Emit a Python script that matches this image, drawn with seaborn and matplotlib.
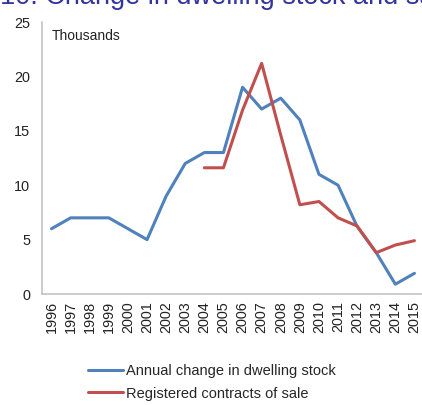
import pandas as pd
import matplotlib.pyplot as plt
import seaborn as sns

years = [str(y) for y in range(1996, 2016)]
dwelling_change = [6, 7, 7, 7, 6, 5, 9, 12, 13, 13, 19, 17, 18, 16, 11, 10, 6.2, 3.8, 0.9, 1.9]
sales_years = [str(y) for y in range(2004, 2016)]
sales_contracts = [11.6, 11.6, 16.9, 21.2, 14.6, 8.2, 8.5, 7.0, 6.25, 3.8, 4.5, 4.9]

labels = ["Annual change in dwelling stock", "Registered contracts of sale"]
colors = ["#4F81BD", "#C0504D"]

df = pd.concat([
    pd.DataFrame({"year": years, "value": dwelling_change, "series": labels[0]}),
    pd.DataFrame({"year": sales_years, "value": sales_contracts, "series": labels[1]}),
])

sns.set_style("white")
plt.rcParams["font.family"] = ["Liberation Sans", "DejaVu Sans"]

fig = plt.figure(figsize=(4.22, 4.05), dpi=100)
ax = fig.add_axes([42 / 422, 111 / 405, 382 / 422, 272 / 405])

sns.lineplot(data=df, x="year", y="value", hue="series", palette=colors,
             linewidth=2.2, legend=False, ax=ax)

ax.set_xlim(-0.5, 19.5)
ax.set_ylim(0, 25)
ax.set_yticks([0, 5, 10, 15, 20, 25])
ax.set_xlabel("")
ax.set_ylabel("")
ax.tick_params(axis="x", rotation=90, length=0, pad=5, labelsize=10.4, colors="#222222")
ax.tick_params(axis="y", length=0, pad=8.5, labelsize=10.4, colors="#222222")
for s in ["top", "right"]:
    ax.spines[s].set_visible(False)
for s in ["left", "bottom"]:
    ax.spines[s].set_color("#BFBFBF")
    ax.spines[s].set_linewidth(1.1)

ax.text(10 / 382, 0.95, "Thousands", transform=ax.transAxes, fontsize=10,
        color="#222222", va="center", ha="left")

ax.legend(ax.lines, labels, loc="upper left", bbox_to_anchor=(82 / 422, 1 - 358 / 405),
          bbox_transform=fig.transFigure, frameon=False, fontsize=10.5,
          handlelength=2.4, handletextpad=0.2, labelspacing=0.6, borderaxespad=0)

fig.text(0, 1 - 4 / 405, "10. Change in dwelling stock and sales", fontsize=19.5,
         color="#3333A0", ha="left", va="baseline")

fig.savefig("out.png", dpi=100)
